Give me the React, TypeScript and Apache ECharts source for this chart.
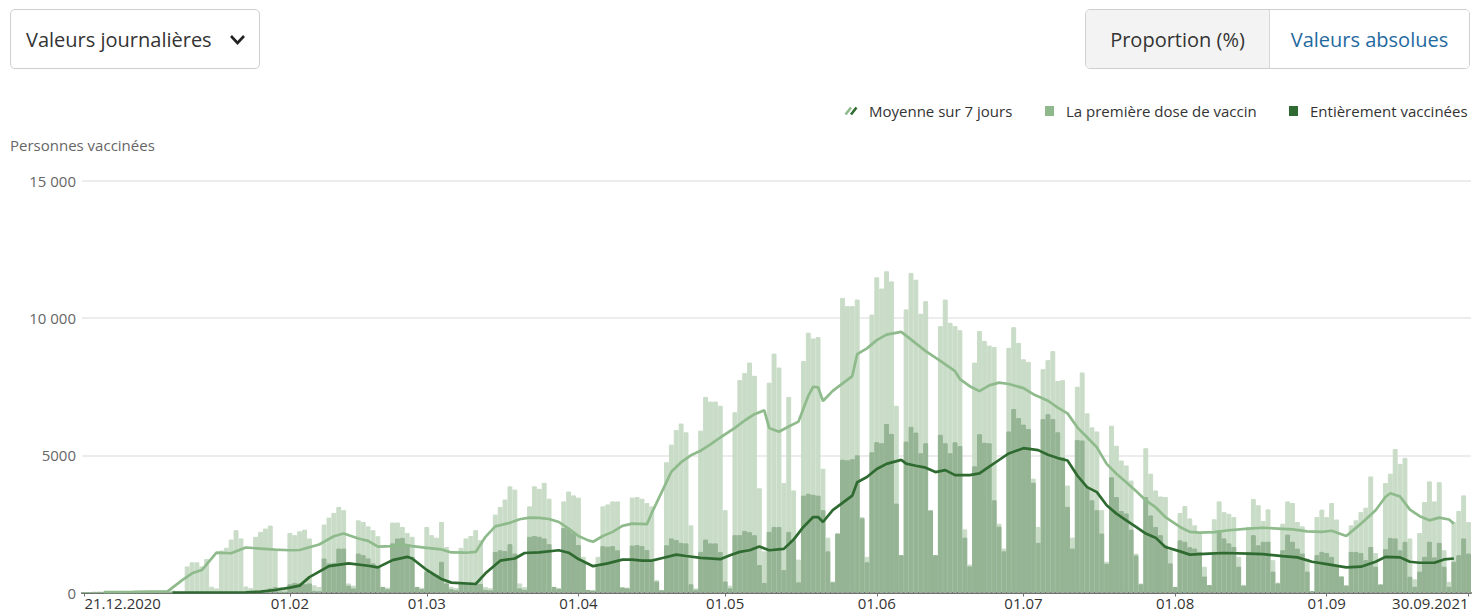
import React, { useEffect, useRef } from "react";
import * as echarts from "echarts";

// Daily values, one per day from 21.12.2020 (Monday) to 30.09.2021, rows = weeks (Mon..Sun)
const firstDoseDaily: number[] = [
  0, 0, 15, 20, 30, 10, 5,
  35, 40, 30, 10, 5, 10, 5,
  45, 50, 60, 55, 70, 20, 15,
  950, 1100, 1100, 950, 1220, 210, 150,
  1530, 1630, 1930, 2270, 1970, 220, 160,
  2030, 2210, 2330, 2440, 1530, 200, 150,
  2170, 2090, 2230, 2290, 1970, 260, 200,
  2475, 2730, 2900, 3120, 3000, 330, 250,
  2630, 2570, 2410, 2270, 2050, 210, 180,
  2550, 2550, 2390, 2170, 2030, 210, 170,
  2390, 2090, 2000, 2570, 1660, 210, 160,
  1630, 1970, 2060, 2270, 1910, 200, 160,
  2840, 3120, 3390, 3870, 3750, 330, 200,
  3140, 3870, 3780, 4000, 3420, 210, 150,
  3320, 3680, 3540, 3460, 1300, 100, 80,
  1300, 3140, 3210, 3320, 3320, 200, 180,
  3460, 3480, 3420, 3260, 3140, 450, 90,
  4750, 5390, 5920, 6160, 5840, 2450, 150,
  5900, 7130, 6960, 6960, 6810, 3000, 250,
  6570, 7740, 8000, 8380, 7900, 3800, 1500,
  7650, 8710, 8200, 3990, 7130, 3720, 1200,
  8440, 9470, 9260, 9310, 4510, 2000, 400,
  2150, 10740, 10440, 10440, 10680, 2750, 1300,
  10130, 11490, 11080, 11710, 11340, 6810, 1360,
  10320, 11650, 11400, 10160, 10620, 3000, 1360,
  9710, 10680, 9830, 9710, 9560, 2300, 1020,
  8380, 9530, 9170, 9000, 8950, 2510, 1600,
  8920, 9670, 9100, 8500, 8410, 4150, 2390,
  8140, 8470, 8800, 7710, 7740, 3900, 2000,
  7500, 8020, 6530, 6020, 5870, 3000, 1120,
  6080, 5350, 4810, 4630, 4080, 1420, 330,
  5260, 4330, 3720, 3500, 3480, 1540, 210,
  2900, 3150, 2700, 2450, 2200, 940, 270,
  2670, 3320, 2930, 2870, 2750, 1300, 280,
  2390, 3410, 3180, 2610, 3030, 1180, 360,
  2510, 3320, 3260, 2570, 2410, 1240, 60,
  2750, 3020, 2750, 3260, 2660, 600, 270,
  2450, 2630, 2930, 3090, 4230, 1440, 300,
  3990, 4330, 5230, 4690, 4910, 1970, 480,
  2170, 3300, 4050, 3320, 4020, 1540, 390,
  2570, 2970, 3540, 2570,
];

const fullyVaccinatedDaily: number[] = [
  0, 0, 0, 0, 0, 0, 0,
  0, 0, 0, 0, 0, 0, 0,
  0, 0, 0, 0, 0, 0, 0,
  0, 0, 0, 0, 0, 0, 0,
  0, 0, 0, 0, 0, 0, 0,
  30, 40, 50, 150, 200, 20, 10,
  300, 350, 330, 300, 330, 60, 40,
  1240, 1060, 1080, 1600, 1600, 250, 150,
  1420, 1360, 1240, 1060, 940, 200, 120,
  1790, 1970, 1990, 1720, 1300, 200, 120,
  760, 670, 640, 1120, 330, 120, 80,
  330, 330, 360, 330, 310, 100, 80,
  1480, 1540, 1510, 1760, 1420, 150, 100,
  2030, 2060, 2030, 1970, 1760, 200, 140,
  2350, 2320, 2170, 1730, 1100, 90, 70,
  940, 1690, 1670, 1690, 1540, 180, 150,
  1710, 1730, 1690, 1550, 1120, 400, 80,
  1720, 1970, 1910, 1810, 1790, 300, 100,
  1480, 1930, 1790, 1790, 1480, 400, 150,
  2090, 2090, 2245, 2200, 2090, 1000, 350,
  2210, 2390, 2390, 820, 2210, 1900, 370,
  3530, 3600, 3560, 3530, 3000, 1500, 370,
  2150, 4840, 4820, 4860, 5000, 2700, 1100,
  5110, 5480, 5440, 6140, 5780, 3240, 1360,
  5500, 6040, 5830, 5075, 5440, 2990, 1360,
  5750, 5440, 5075, 5475, 5340, 2000, 950,
  4600, 5770, 5460, 5440, 3360, 2400, 1500,
  5870, 6690, 6360, 6120, 5960, 4000, 1810,
  6320, 6500, 6320, 5840, 4930, 3120, 1600,
  5560, 5540, 3840, 3360, 3000, 2150, 1050,
  4200, 3480, 2970, 2880, 2290, 1350, 300,
  3480, 2810, 2390, 2090, 1720, 1060, 200,
  1900, 1850, 1650, 1600, 1480, 580, 270,
  1480, 2270, 1970, 1790, 1660, 940, 250,
  1480, 2090, 1720, 1850, 1850, 760, 330,
  1540, 2110, 1850, 1600, 1420, 760, 50,
  1360, 1480, 1440, 1300, 1000, 575, 250,
  1480, 1480, 1440, 1180, 1660, 940, 290,
  1580, 1990, 1970, 1540, 1850, 575, 210,
  760, 1300, 1850, 1280, 1810, 940, 210,
  1120, 1360, 1970, 1420,
];

// 7-day average lines, read as [day index, value]
const firstDoseAvg: number[][] = [
  [4, 15], [10, 25], [17, 40], [20, 450], [22, 700], [24, 820], [27, 1450], [30, 1430], [33, 1640],
  [36, 1600], [39, 1560], [42, 1540], [44, 1550], [46, 1650], [48, 1750], [51, 2050], [53, 2150],
  [56, 1970], [58, 1880], [60, 1670], [63, 1690], [65, 1760], [67, 1690], [70, 1630], [73, 1570],
  [75, 1460], [78, 1450], [80, 1480], [82, 2030], [84, 2410], [87, 2540], [89, 2670], [91, 2730],
  [93, 2720], [95, 2680], [97, 2570], [99, 2330], [101, 2060], [103, 1900], [104, 1850], [106, 2060],
  [108, 2210], [110, 2430], [112, 2510], [115, 2490], [116, 2900], [118, 3650], [120, 4400],
  [122, 4750], [124, 5000], [126, 5170], [128, 5400], [130, 5650], [133, 6000], [135, 6270],
  [137, 6500], [139, 6640], [140, 6000], [142, 5860], [144, 6050], [146, 6230], [148, 7170],
  [149, 7500], [150, 7480], [151, 6980], [153, 7350], [157, 7890], [158, 8690], [160, 8900],
  [162, 9200], [164, 9400], [167, 9500], [170, 9080], [172, 8800], [175, 8440], [178, 8070],
  [179, 7780], [181, 7520], [183, 7340], [185, 7550], [187, 7650], [189, 7600], [192, 7450],
  [194, 7230], [197, 6990], [199, 6740], [201, 6530], [203, 6020], [205, 5660], [207, 5290],
  [209, 4690], [211, 4330], [213, 4020], [215, 3700], [217, 3360], [219, 3110], [221, 2750],
  [224, 2390], [226, 2210], [228, 2180], [231, 2200], [234, 2270], [238, 2330], [241, 2360],
  [244, 2330], [247, 2300], [250, 2230], [253, 2210], [255, 2250], [258, 2060], [261, 2510],
  [264, 3000], [266, 3480], [267, 3620], [269, 3500], [271, 3020], [273, 2780], [275, 2630],
  [277, 2730], [279, 2660], [280, 2510],
];

const fullyVaccinatedAvg: number[][] = [
  [18, 0], [33, 10], [36, 30], [39, 90], [42, 180], [44, 250], [46, 560], [50, 960], [54, 1060],
  [58, 975], [60, 915], [63, 1180], [66, 1300], [67, 1240], [70, 820], [73, 490], [75, 360],
  [80, 310], [82, 700], [85, 1160], [88, 1240], [90, 1440], [93, 1460], [97, 1540], [99, 1450],
  [101, 1220], [104, 960], [107, 1060], [110, 1200], [112, 1200], [114, 1160], [116, 1160],
  [118, 1250], [121, 1380], [123, 1330], [126, 1265], [130, 1216], [132, 1360], [134, 1480],
  [136, 1540], [138, 1680], [140, 1540], [143, 1590], [145, 1930], [147, 2390], [149, 2750],
  [150, 2750], [151, 2570], [153, 3000], [157, 3530], [158, 4020], [160, 4210], [162, 4500],
  [164, 4690], [167, 4835], [168, 4700], [170, 4620], [172, 4550], [174, 4390], [176, 4460],
  [178, 4280], [181, 4280], [183, 4340], [185, 4590], [187, 4830], [189, 5070], [192, 5260],
  [195, 5190], [197, 5020], [199, 4900], [201, 4810], [203, 4265], [205, 3840], [207, 3660],
  [209, 3180], [211, 2875], [213, 2630], [215, 2390], [217, 2150], [219, 2000], [221, 1660],
  [224, 1500], [226, 1380], [230, 1420], [233, 1440], [238, 1420], [241, 1400], [245, 1325],
  [248, 1280], [251, 1120], [254, 1035], [258, 915], [261, 940], [264, 1120], [266, 1300],
  [269, 1280], [271, 1120], [273, 1085], [276, 1085], [278, 1205], [280, 1240],
];

const tickIndices: number[] = [0, 42, 70, 101, 131, 162, 192, 223, 254, 283];
const tickLabels: string[] = [
  "21.12.2020", "01.02", "01.03", "01.04", "01.05", "01.06", "01.07", "01.08", "01.09", "30.09.2021",
];

const FONT = "'Open Sans', 'Noto Sans', sans-serif";
const C_LIGHT_BAR = "#c9dcc7";
const C_DARK_BAR = "#95b494";
const C_LIGHT_LINE = "#8fbb8c";
const C_DARK_LINE = "#2f6b31";
const C_LEGEND_LIGHT = "#8fb98d";
const C_LEGEND_DARK = "#2e6a32";

const N = firstDoseDaily.length;
const categories: string[] = Array.from({ length: N }, (_, i) => {
  const dt = new Date(2020, 11, 21 + i);
  const dd = String(dt.getDate()).padStart(2, "0");
  const mm = String(dt.getMonth() + 1).padStart(2, "0");
  return `${dd}.${mm}.${dt.getFullYear()}`;
});

const labelOf: Record<number, string> = {};
tickIndices.forEach((idx, k) => {
  labelOf[idx] = tickLabels[k];
});

function sparse(points: number[][]): (number | null)[] {
  const arr: (number | null)[] = new Array(N).fill(null);
  points.forEach(([d, v]) => {
    arr[d] = v;
  });
  return arr;
}

function fmtY(v: number): string {
  if (v >= 10000) {
    const s = String(v);
    return s.slice(0, s.length - 3) + " " + s.slice(s.length - 3);
  }
  return String(v);
}

function buildOption(): any {
  return {
    animation: false,
    grid: { left: 82, right: 1, top: 181, bottom: 22.5, containLabel: false },
    xAxis: {
      type: "category",
      data: categories,
      boundaryGap: true,
      axisLine: { lineStyle: { color: "#707070", width: 2 } },
      axisTick: {
        show: true,
        alignWithLabel: true,
        interval: (i: number) => labelOf[i] !== undefined,
        length: 4,
        lineStyle: { color: "#707070", width: 1 },
      },
      axisLabel: {
        interval: (i: number) => labelOf[i] !== undefined,
        formatter: (_v: string, i: number) => labelOf[i] ?? "",
        color: "#333",
        fontSize: 15,
        fontFamily: FONT,
        margin: 3,
        alignMinLabel: "left",
        alignMaxLabel: "right",
      },
      splitLine: { show: false },
    },
    yAxis: {
      type: "value",
      min: 0,
      max: 15000,
      interval: 5000,
      axisLine: { show: false },
      axisTick: { show: false },
      axisLabel: { formatter: fmtY, color: "#666", fontSize: 15, fontFamily: FONT, margin: 6 },
      splitLine: { lineStyle: { color: "#e6e6e6", width: 1.5 } },
    },
    graphic: [
      {
        type: "text",
        x: 10,
        y: 145,
        style: { text: "Personnes vaccinées", fill: "#666", font: `15px ${FONT}`, textVerticalAlign: "middle" },
      },
      {
        type: "line",
        shape: { x1: 845.5, y1: 114.5, x2: 851, y2: 107.5 },
        style: { stroke: C_LIGHT_LINE, lineWidth: 2.6 },
      },
      {
        type: "line",
        shape: { x1: 851, y1: 114.5, x2: 856.5, y2: 107.5 },
        style: { stroke: C_DARK_LINE, lineWidth: 2.6 },
      },
      {
        type: "text",
        x: 869,
        y: 111,
        style: { text: "Moyenne sur 7 jours", fill: "#333", font: `15px ${FONT}`, textVerticalAlign: "middle" },
      },
      {
        type: "rect",
        shape: { x: 1045, y: 106, width: 9, height: 10 },
        style: { fill: C_LEGEND_LIGHT },
      },
      {
        type: "text",
        x: 1066,
        y: 111,
        style: { text: "La première dose de vaccin", fill: "#333", font: `15px ${FONT}`, textVerticalAlign: "middle" },
      },
      {
        type: "rect",
        shape: { x: 1289, y: 106, width: 9, height: 10 },
        style: { fill: C_LEGEND_DARK },
      },
      {
        type: "text",
        x: 1310,
        y: 111,
        style: { text: "Entièrement vaccinées", fill: "#333", font: `15px ${FONT}`, textVerticalAlign: "middle" },
      },
    ],
    series: [
      {
        name: "La première dose de vaccin",
        type: "bar",
        data: firstDoseDaily,
        barGap: "-100%",
        barCategoryGap: "0%",
        itemStyle: { color: C_LIGHT_BAR, borderColor: C_LIGHT_BAR, borderWidth: 1 },
        z: 1,
      },
      {
        name: "Entièrement vaccinées",
        type: "bar",
        data: fullyVaccinatedDaily,
        barGap: "-100%",
        barCategoryGap: "0%",
        itemStyle: { color: C_DARK_BAR, borderColor: C_DARK_BAR, borderWidth: 1 },
        z: 2,
      },
      {
        name: "Moyenne première dose",
        type: "line",
        data: sparse(firstDoseAvg),
        connectNulls: true,
        showSymbol: false,
        lineStyle: { color: C_LIGHT_LINE, width: 2.7 },
        z: 3,
      },
      {
        name: "Moyenne entièrement vaccinées",
        type: "line",
        data: sparse(fullyVaccinatedAvg),
        connectNulls: true,
        showSymbol: false,
        lineStyle: { color: C_DARK_LINE, width: 2.7 },
        z: 4,
      },
    ],
  };
}

export default function App() {
  const ref = useRef<HTMLDivElement>(null);
  useEffect(() => {
    document.body.style.margin = "0";
    if (!ref.current) return;
    const chart = echarts.init(ref.current, undefined, { renderer: "svg" });
    chart.setOption(buildOption());
    return () => {
      chart.dispose();
    };
  }, []);

  return (
    <div
      style={{
        position: "fixed",
        left: 0,
        top: 0,
        width: 1472,
        height: 615,
        background: "#fff",
        overflow: "hidden",
        fontFamily: FONT,
      }}
    >
      <div ref={ref} style={{ position: "absolute", left: 0, top: 0, width: 1472, height: 615 }} />
      <div
        style={{
          position: "absolute",
          left: 10,
          top: 9,
          width: 248,
          height: 58,
          border: "1px solid #cfcfcf",
          borderRadius: 5,
          background: "#fff",
          display: "flex",
          alignItems: "center",
          color: "#333",
          fontSize: 20,
        }}
      >
        <span style={{ marginLeft: 15 }}>Valeurs journalières</span>
        <svg width="20" height="14" style={{ position: "absolute", left: 218, top: 23 }}>
          <polyline points="2,3 8.5,10 15,3" fill="none" stroke="#222" strokeWidth="2.6" />
        </svg>
      </div>
      <div
        style={{
          position: "absolute",
          left: 1085,
          top: 9,
          width: 383,
          height: 58,
          border: "1px solid #cfcfcf",
          borderRadius: 5,
          overflow: "hidden",
          display: "flex",
          fontSize: 20,
        }}
      >
        <div
          style={{
            width: 183,
            height: 58,
            background: "#f3f3f3",
            borderRight: "1px solid #d6d6d6",
            display: "flex",
            alignItems: "center",
            justifyContent: "center",
            color: "#333",
          }}
        >
          Proportion (%)
        </div>
        <div
          style={{
            flex: 1,
            height: 58,
            background: "#fff",
            display: "flex",
            alignItems: "center",
            justifyContent: "center",
            color: "#1f6a9f",
          }}
        >
          Valeurs absolues
        </div>
      </div>
    </div>
  );
}
